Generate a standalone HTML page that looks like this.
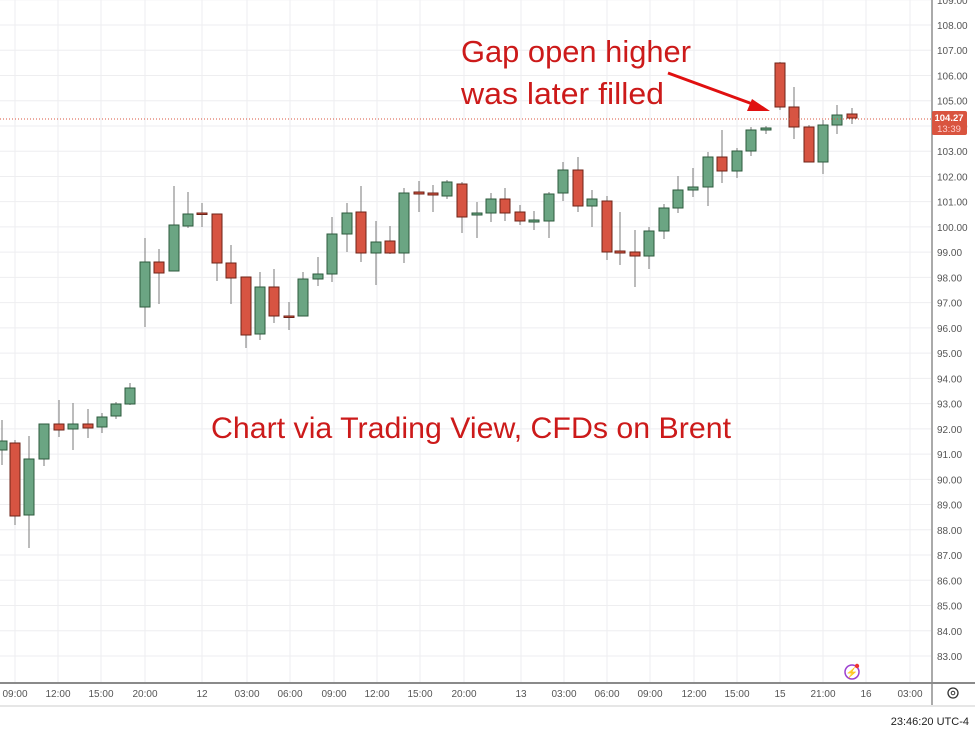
<!DOCTYPE html>
<html><head><meta charset="utf-8"><style>
html,body{margin:0;padding:0;background:#fff;}
svg{display:block;font-family:"Liberation Sans",sans-serif;}
</style></head><body>
<svg id="s" width="975" height="732" viewBox="0 0 975 732" xmlns="http://www.w3.org/2000/svg">
<rect width="975" height="732" fill="#fff"/>
<g id="grid"></g>
<g id="candles"></g>
<line x1="0" y1="119" x2="931" y2="119" stroke="#d9543f" stroke-width="1" stroke-dasharray="1,2"/>
<line x1="932" y1="0" x2="932" y2="706" stroke="#555" stroke-width="1"/>
<line x1="0" y1="683" x2="975" y2="683" stroke="#8a8a8a" stroke-width="2"/>
<line x1="0" y1="706" x2="975" y2="706" stroke="#e6e6e6" stroke-width="2"/>
<g id="plabels" font-size="10" fill="#555"></g>
<g id="tlabels" font-size="10" fill="#555" text-anchor="middle"></g>
<rect x="932" y="111" width="35" height="24" rx="2" fill="#d9543f"/>
<text x="949" y="121" font-size="9.5" fill="#fff" text-anchor="middle" font-weight="bold">104.27</text>
<text x="949" y="132" font-size="9.5" fill="#fcc" text-anchor="middle">13:39</text>
<circle cx="953" cy="693" r="5" fill="none" stroke="#333" stroke-width="1.3"/>
<circle cx="953" cy="693" r="1.8" fill="none" stroke="#333" stroke-width="1"/>
<circle cx="852" cy="672" r="7" fill="none" stroke="#9c3fd0" stroke-width="1.5"/>
<text x="852" y="676" font-size="10" fill="#9c3fd0" text-anchor="middle">⚡</text>
<circle cx="857" cy="666" r="2.2" fill="#e33"/>
<text x="969" y="725" font-size="11" fill="#222" text-anchor="end">23:46:20 UTC-4</text>
<text x="461" y="62" font-size="31" fill="#cc1a1a" textLength="230" lengthAdjust="spacingAndGlyphs">Gap open higher</text>
<text x="461" y="104" font-size="31" fill="#cc1a1a" textLength="203" lengthAdjust="spacingAndGlyphs">was later filled</text>
<line x1="668" y1="73" x2="758" y2="106" stroke="#e01010" stroke-width="3"/>
<polygon points="770,111 752,99 747,111" fill="#e01010"/>
<text x="211" y="438" font-size="30" fill="#cc1a1a" textLength="520" lengthAdjust="spacingAndGlyphs">Chart via Trading View, CFDs on Brent</text>
</svg>
<script>
var NS="http://www.w3.org/2000/svg";
function el(p,t,a,txt){var e=document.createElementNS(NS,t);for(var k in a)e.setAttribute(k,a[k]);if(txt!==undefined)e.textContent=txt;document.getElementById(p).appendChild(e);}
function y(p){return 25+(108-p)*25.24;}
for(var p=83;p<=109;p++){var yy=y(p);el("grid","line",{x1:0,x2:931,y1:yy,y2:yy,stroke:"#eeeef0","stroke-width":1});el("plabels","text",{x:937,y:yy+4},p.toFixed(2));}
var tl=[[15,"09:00"],[58,"12:00"],[101,"15:00"],[145,"20:00"],[202,"12"],[247,"03:00"],[290,"06:00"],[334,"09:00"],[377,"12:00"],[420,"15:00"],[464,"20:00"],[521,"13"],[564,"03:00"],[607,"06:00"],[650,"09:00"],[694,"12:00"],[737,"15:00"],[780,"15"],[823,"21:00"],[866,"16"],[910,"03:00"]];
tl.forEach(function(t){el("grid","line",{x1:t[0],x2:t[0],y1:0,y2:683,stroke:"#eeeef0","stroke-width":1});el("tlabels","text",{x:t[0],y:697},t[1]);});
var G="g",R="r";
var c=[
[2,420,465,441,450,G],[15,440,525,443,516,R],[29,436,548,459,515,G],[44,424,466,424,459,G],[59,400,437,424,430,R],[73,403,450,424,429,G],[88,409,438,424,428,R],[102,413,433,417,427,G],[116,402,419,404,416,G],[130,383,405,388,404,G],
[145,238,327,262,307,G],[159,249,304,262,273,R],[174,186,271,225,271,G],[188,192,228,214,226,G],[202,203,227,213,214,R],[217,214,281,214,263,R],[231,245,304,263,278,R],[246,277,348,277,335,R],[260,272,340,287,334,G],[274,269,323,287,316,R],[289,302,330,316,317,R],[303,272,316,279,316,G],[318,257,286,274,279,G],[332,217,282,234,274,G],[347,203,252,213,234,G],[361,186,262,212,253,R],[376,221,285,242,253,G],[390,226,254,241,253,R],[404,188,263,193,253,G],[419,181,212,192,194,R],[433,185,212,193,195,R],
[447,180,199,182,196,G],[462,182,233,184,217,R],[477,202,238,213,215,G],[491,193,222,199,213,G],[505,188,221,199,213,R],[520,205,225,212,221,R],[534,211,230,220,222,G],[549,192,238,194,221,G],[563,162,201,170,193,G],[578,157,212,170,206,R],[592,190,227,199,206,G],[607,196,260,201,252,R],[620,212,265,251,253,R],[635,230,287,252,256,R],[649,227,269,231,256,G],[664,204,239,208,231,G],[678,176,213,190,208,G],[693,168,197,187,190,G],[708,152,206,157,187,G],[722,130,183,157,171,R],[737,148,178,151,171,G],[751,127,156,130,151,G],[766,126,134,128,130,G],
[780,62,110,63,107,R],[794,87,139,107,127,R],[809,125,162,127,162,R],[823,120,174,125,162,G],[837,105,134,115,125,G],[852,108,124,114,118,R]];
c.forEach(function(d){
 var fill=d[5]==G?"#6ba583":"#d75442", st=d[5]==G?"#2c5a3d":"#6e2318";
 el("candles","line",{x1:d[0],x2:d[0],y1:d[1],y2:d[2],stroke:"#7a7a7a","stroke-width":1});
 var h=Math.max(d[4]-d[3],1.5);
 el("candles","rect",{x:d[0]-5,y:d[3],width:10,height:h,fill:fill,stroke:st,"stroke-width":1});
});
</script>
</body></html>
